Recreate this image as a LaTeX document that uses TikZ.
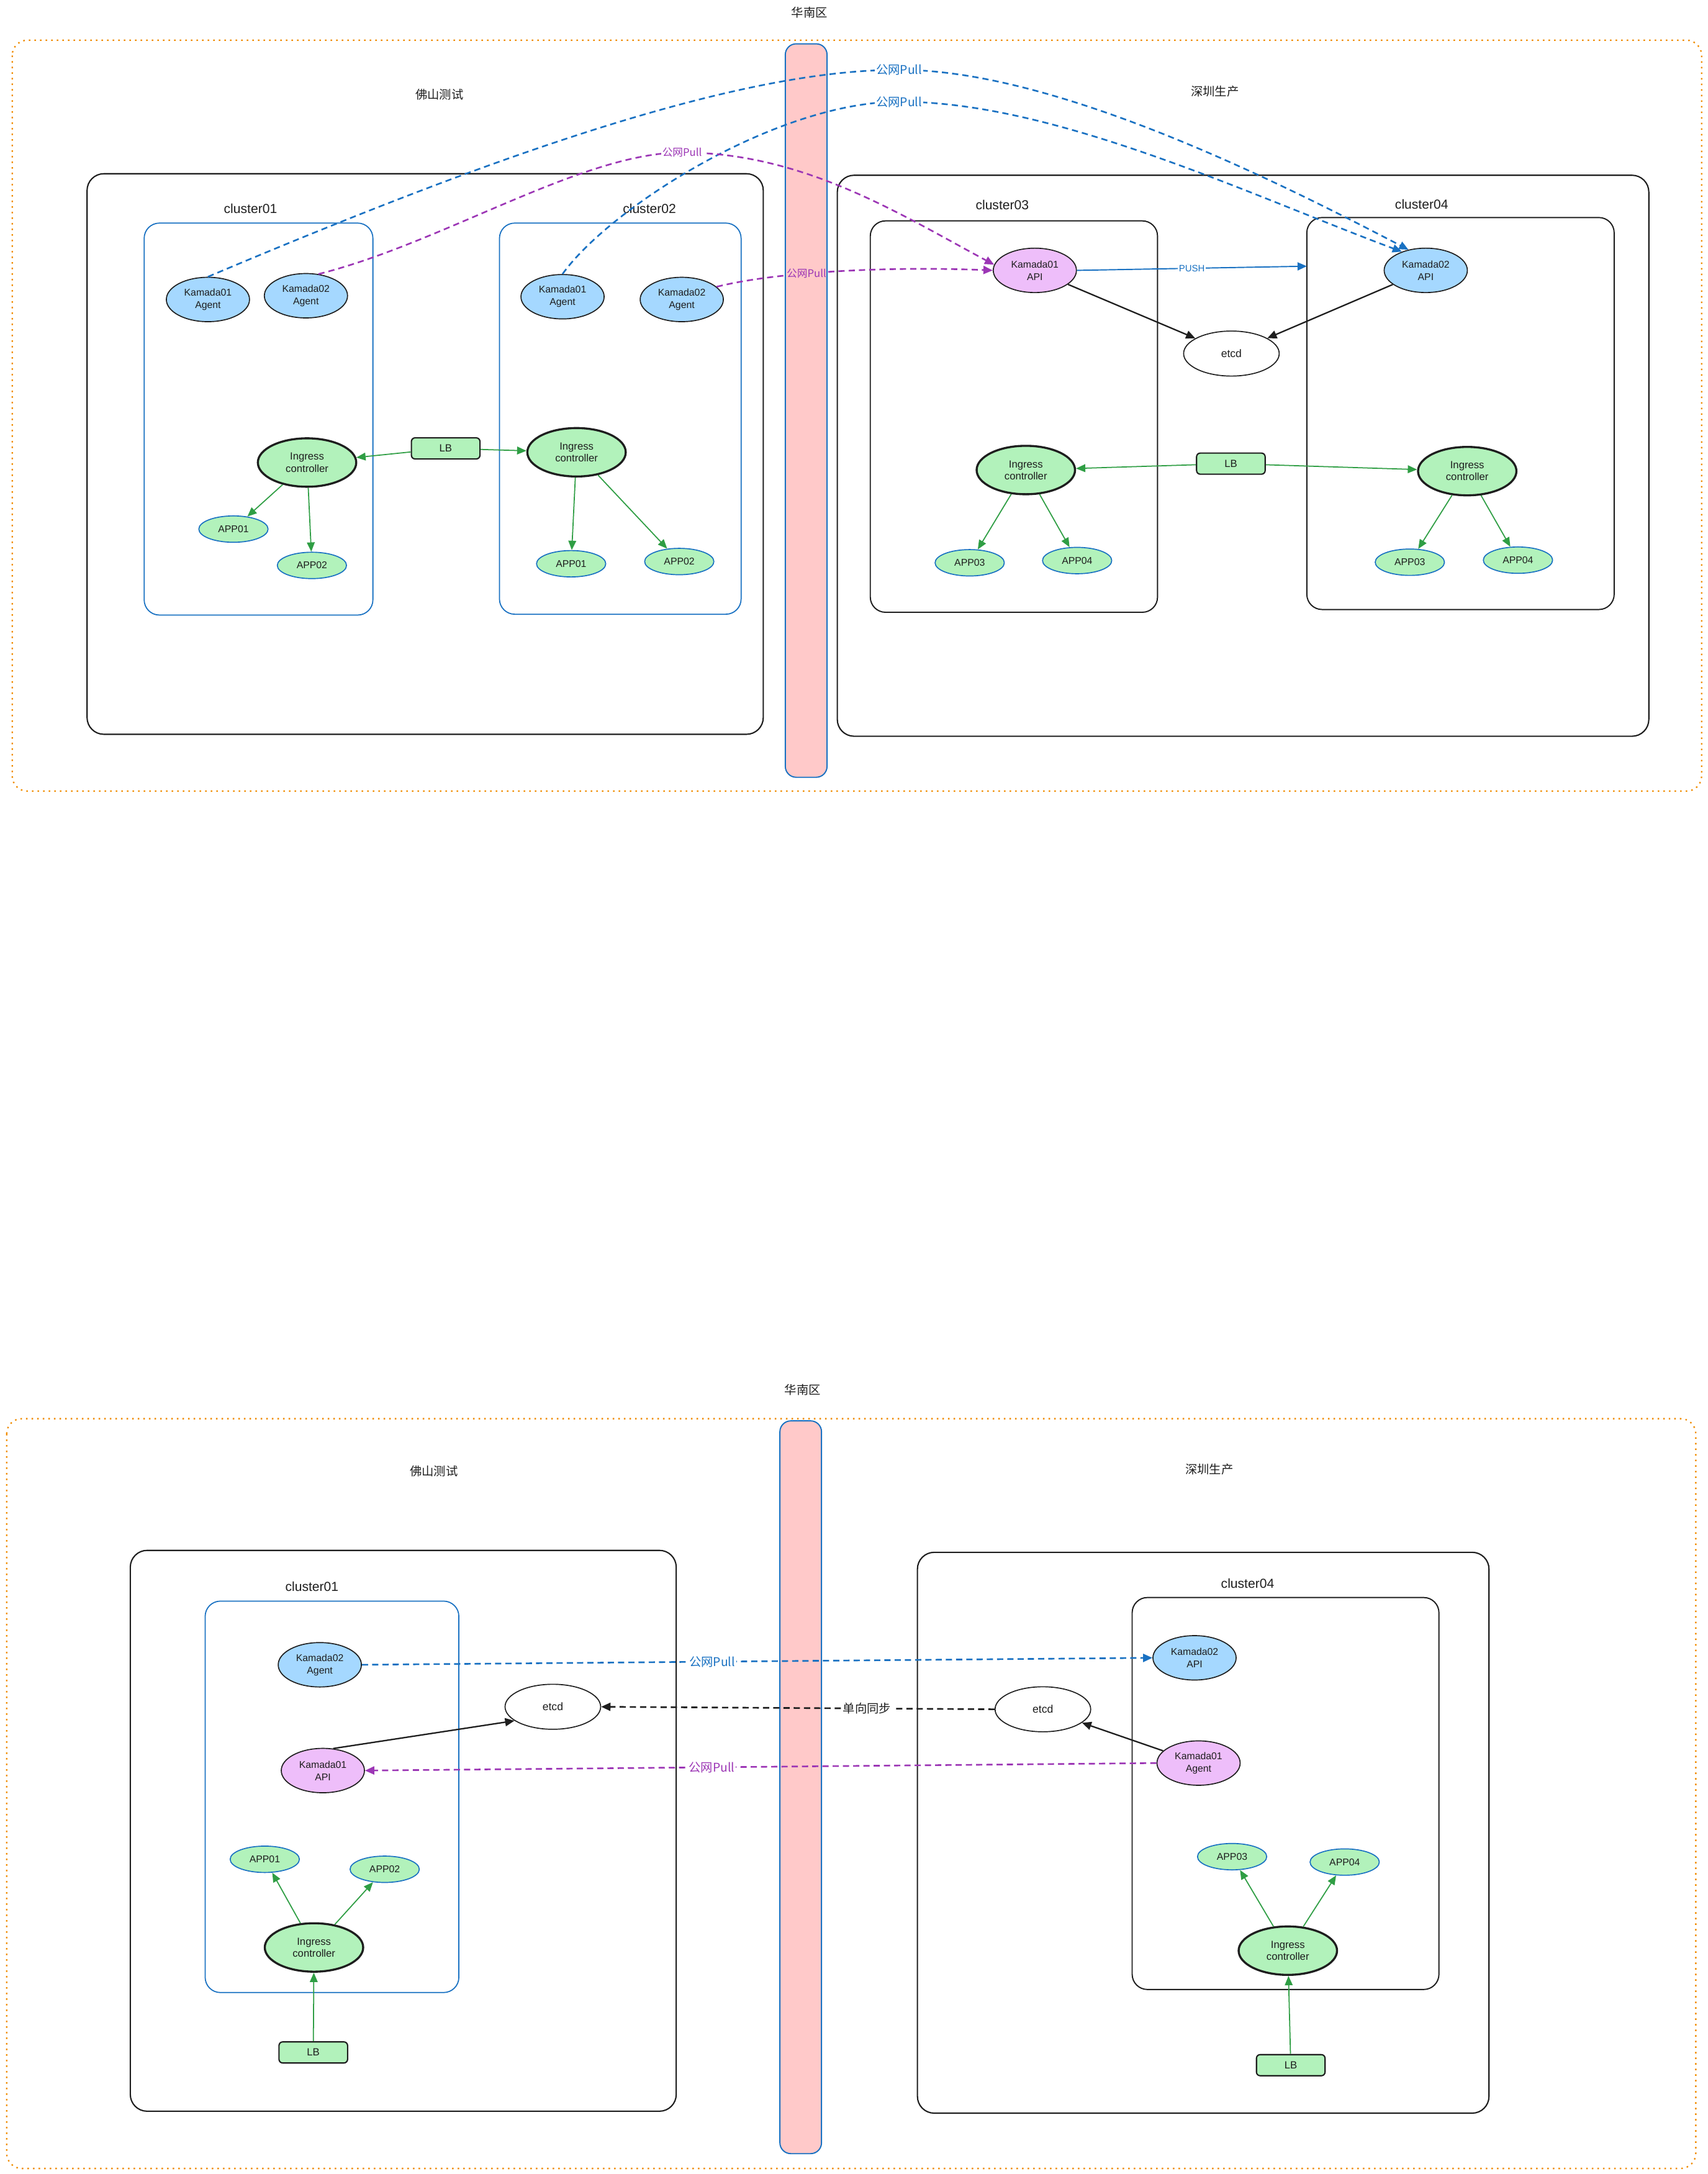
\documentclass[tikz,border=0pt]{standalone}
\usepackage{fontspec}
\setmainfont{Liberation Sans}
\newfontfamily\cjk{Noto Sans CJK SC}
\usetikzlibrary{arrows.meta,shapes.geometric}

\definecolor{exblue}{HTML}{1971C2}
\definecolor{expurple}{HTML}{9C36B5}
\definecolor{exgreen}{HTML}{2F9E44}
\definecolor{exorange}{HTML}{F08C00}
\definecolor{exblack}{HTML}{1E1E1E}
\definecolor{fillblue}{HTML}{A5D8FF}
\definecolor{fillpink}{HTML}{EEBEFA}
\definecolor{fillgreen}{HTML}{B2F2BB}
\definecolor{fillred}{HTML}{FFC9C9}

\begin{document}
\begin{tikzpicture}[x=0.4466mm, y=-0.4466mm]

		\tikzset{
			basic/.style={draw=exblack, line width=0.95pt, text=exblack, text centered, inner sep=0pt},
			agentnode/.style={basic, ellipse, fill=fillblue, minimum width=26.8mm, minimum height=14.3mm, align=center, font=\fontsize{9}{11.4}\selectfont},
			apinode/.style={agentnode, fill=fillpink},
			ingress/.style={basic, ellipse, line width=1.9pt, fill=fillgreen, minimum width=31.7mm, minimum height=15.6mm, align=center, font=\fontsize{9.5}{10.9}\selectfont},
			appnode/.style={basic, ellipse, draw=exblue, fill=fillgreen, minimum width=22.3mm, minimum height=8.5mm, font=\fontsize{9}{11}\selectfont},
			lbnode/.style={basic, rectangle, line width=1.2pt, rounded corners=1.2mm, fill=fillgreen, minimum width=22.1mm, minimum height=6.8mm, font=\fontsize{9.5}{11}\selectfont},
			etcdnode/.style={basic, ellipse, fill=white, minimum width=30.8mm, minimum height=14.5mm, font=\fontsize{10}{12}\selectfont},
			region/.style={draw=exorange, line width=1.3pt, dash pattern=on 0.5mm off 1.3mm, rounded corners=4.9mm},
			zone/.style={draw=exblack, line width=1.2pt, rounded corners=5.4mm},
			cbox/.style={draw=exblue, line width=1pt, rounded corners=4.9mm},
			kbox/.style={draw=exblack, line width=1.1pt, rounded corners=4.9mm},
			wall/.style={draw=exblue, fill=fillred, line width=1.1pt, rounded corners=3.5mm},
			title/.style={text=exblack, font=\cjk\fontsize{11}{13}\selectfont},
			ctitle/.style={text=exblack, font=\fontsize{12}{14}\selectfont},
			garrow/.style={-{Triangle[length=3mm,width=2.5mm]}, exgreen, line width=1pt},
			karrow/.style={-{Triangle[length=3mm,width=2.6mm]}, exblack, line width=1.3pt},
			barrow/.style={-{Triangle[length=3mm,width=2.6mm]}, exblue, line width=1.1pt},
			pull/.style={-{Triangle[length=3mm,width=2.6mm]}, line width=1.5pt, dash pattern=on 2mm off 1.3mm},
			plabel/.style={fill=white, inner sep=1pt, font=\cjk\fontsize{11}{13}\selectfont},
			slabel/.style={plabel, font=\cjk\fontsize{9.5}{11}\selectfont}
		}

		\useasboundingbox (0,0) rectangle (1232,1568);

		% ---------------- upper picture ----------------

		% frames
		\draw[region] (8.8,29) rectangle (1227.5,570.6);
		\draw[wall] (566.5,31.6) rectangle (596.6,560.6);
		\draw[zone] (62.8,125.3) rectangle (550.6,529.6);
		\draw[zone] (604,126.4) rectangle (1189.4,531);
		\draw[cbox] (104,160.9) rectangle (269,443.6);
		\draw[cbox] (360.3,160.9) rectangle (534.6,443);
		\draw[kbox] (627.8,159.3) rectangle (835,441.6);
		\draw[kbox] (942.7,156.9) rectangle (1164.4,439.6);
		\coordinate (up_C04_edge) at (942.7,192);

		\node[title] (up_HN) at (584,9) {华南区};
		\node[title] (up_FS) at (317,68) {佛山测试};
		\node[title] (up_SZ) at (876.4,66) {深圳生产};
		\node[ctitle] (up_T01) at (180.7,150.3) {cluster01};
		\node[ctitle] (up_T02) at (468.5,150.4) {cluster02};
		\node[ctitle] (up_T03) at (723,148) {cluster03};
		\node[ctitle] (up_T04) at (1025.5,147.3) {cluster04};

		% internal Nodes
		\node[agentnode] (up_C01_AG1) at (150,216) {Kamada01\\Agent};
		\node[agentnode] (up_C01_AG2) at (220.7,213.3) {Kamada02\\Agent};
		\node[agentnode] (up_C02_AG1) at (405.8,214) {Kamada01\\Agent};
		\node[agentnode] (up_C02_AG2) at (491.8,216) {Kamada02\\Agent};
		\node[apinode] (up_C03_API) at (746.5,195) {Kamada01\\API};
		\node[agentnode] (up_C04_API) at (1028.5,195) {Kamada02\\API};
		\node[etcdnode] (up_ETCD) at (888.3,255) {etcd};

		\node[ingress] (up_C01_ING) at (221.5,333.6) {Ingress\\controller};
		\node[ingress] (up_C02_ING) at (415.9,326.2) {Ingress\\controller};
		\node[ingress] (up_C03_ING) at (740,339) {Ingress\\controller};
		\node[ingress] (up_C04_ING) at (1058.4,339.8) {Ingress\\controller};
		\node[lbnode] (up_LB12) at (321.5,323.4) {LB};
		\node[lbnode] (up_LB34) at (887.9,334.4) {LB};

		\node[appnode] (up_C01_APP1) at (168.4,381.6) {APP01};
		\node[appnode] (up_C01_APP2) at (225,407.8) {APP02};
		\node[appnode] (up_C02_APP1) at (412,406.6) {APP01};
		\node[appnode] (up_C02_APP2) at (490,405) {APP02};
		\node[appnode] (up_C03_APP3) at (699.5,405.9) {APP03};
		\node[appnode] (up_C03_APP4) at (777,404.3) {APP04};
		\node[appnode] (up_C04_APP3) at (1017,405.5) {APP03};
		\node[appnode] (up_C04_APP4) at (1095,404) {APP04};

		% public network pulls
		\draw[pull, exblue] (up_C01_AG1.north) .. controls (350,115) and (530,50) .. (648.5,50.4)
			node[plabel, text=exblue] {公网Pull} .. controls (760,50) and (920,130) .. (up_C04_API.130);
		\draw[pull, exblue] (up_C02_AG1.north) .. controls (440,150) and (560,73.4) .. (648.5,73.4)
			node[plabel, text=exblue] {公网Pull} .. controls (760,73) and (900,140) .. (up_C04_API.142);
		\draw[pull, expurple] (up_C01_AG2.60) .. controls (320,175) and (420,110) .. (492,110)
			node[slabel, text=expurple] {公网Pull} .. controls (580,110) and (650,155) .. (up_C03_API.172);
		\draw[pull, expurple] (up_C02_AG2.20) .. controls (560,196) and (640,192) .. (up_C03_API.west)
			node[slabel, fill=fillred, inner sep=0pt, text=expurple, pos=0.39] {公网Pull};

		% control plane
		\draw[barrow] (up_C03_API.east) -- (up_C04_edge) node[midway, fill=white, inner sep=1pt, text=exblue, font=\fontsize{8.5}{10}\selectfont] {PUSH};
		\draw[karrow] (up_C03_API) -- (up_ETCD);
		\draw[karrow] (up_C04_API) -- (up_ETCD);

		% traffic
		\draw[garrow] (up_LB12) -- (up_C01_ING);
		\draw[garrow] (up_LB12) -- (up_C02_ING);
		\draw[garrow] (up_C01_ING) -- (up_C01_APP1);
		\draw[garrow] (up_C01_ING) -- (up_C01_APP2);
		\draw[garrow] (up_C02_ING) -- (up_C02_APP1);
		\draw[garrow] (up_C02_ING) -- (up_C02_APP2);
		\draw[garrow] (up_LB34) -- (up_C03_ING);
		\draw[garrow] (up_LB34) -- (up_C04_ING);
		\draw[garrow] (up_C03_ING) -- (up_C03_APP3);
		\draw[garrow] (up_C03_ING) -- (up_C03_APP4);
		\draw[garrow] (up_C04_ING) -- (up_C04_APP3);
		\draw[garrow] (up_C04_ING) -- (up_C04_APP4);

		% ---------------- lower picture ----------------

		% frames
		\draw[region] (4.8,1023.2) rectangle (1223.3,1564);
		\draw[wall] (562.6,1024.8) rectangle (592.6,1553.3);
		\draw[zone] (94,1118.2) rectangle (487.8,1522.7);
		\draw[zone] (661.8,1119.6) rectangle (1074.1,1524.1);
		\draw[cbox] (148,1154.8) rectangle (331,1437.1);
		\draw[kbox] (816.7,1152.2) rectangle (1038,1434.9);

		\node[title] (dn_HN) at (579,1002.2) {华南区};
		\node[title] (dn_FS) at (313,1061.2) {佛山测试};
		\node[title] (dn_SZ) at (872.3,1059.6) {深圳生产};
		\node[ctitle] (dn_T01) at (225,1144.2) {cluster01};
		\node[ctitle] (dn_T04) at (900,1142.1) {cluster04};

		% internal Nodes
		\node[agentnode] (dn_C01_AG2) at (230.7,1200.7) {Kamada02\\Agent};
		\node[apinode] (dn_C01_API) at (232.9,1277) {Kamada01\\API};
		\node[etcdnode] (dn_C01_ETCD) at (398.8,1231) {etcd};
		\node[appnode] (dn_C01_APP1) at (191,1341) {APP01};
		\node[appnode] (dn_C01_APP2) at (277.5,1348.2) {APP02};
		\node[ingress] (dn_C01_ING) at (226.5,1404.6) {Ingress\\controller};
		\node[lbnode] (dn_C01_LB) at (226,1480.3) {LB};

		\node[agentnode] (dn_C04_API) at (861.7,1195.7) {Kamada02\\API};
		\node[etcdnode] (dn_C04_ETCD) at (752.3,1232.8) {etcd};
		\node[apinode] (dn_C04_AG1) at (864.6,1271.6) {Kamada01\\Agent};
		\node[appnode] (dn_C04_APP3) at (888.8,1339.1) {APP03};
		\node[appnode] (dn_C04_APP4) at (970,1343) {APP04};
		\node[ingress] (dn_C04_ING) at (929,1406.9) {Ingress\\controller};
		\node[lbnode] (dn_C04_LB) at (931.1,1489.5) {LB};

		% cross region connections
		\draw[pull, exblue] (dn_C01_AG2.east) -- (dn_C04_API.west)
			node[plabel, text=exblue, pos=0.443] {公网Pull};
		\draw[pull, exblack] (dn_C04_ETCD.west) -- (dn_C01_ETCD.east)
			node[plabel, text=exblack, pos=0.324] {单向同步};
		\draw[pull, expurple] (dn_C04_AG1.west) -- (dn_C01_API.east)
			node[plabel, text=expurple, pos=0.562] {公网Pull};

		% internal interconnect arrows
		\draw[karrow] (dn_C01_API.65) -- (dn_C01_ETCD.200);
		\draw[karrow] (dn_C04_AG1) -- (dn_C04_ETCD);

		\draw[garrow] (dn_C01_LB) -- (dn_C01_ING);
		\draw[garrow] (dn_C01_ING) -- (dn_C01_APP1);
		\draw[garrow] (dn_C01_ING) -- (dn_C01_APP2);
		\draw[garrow] (dn_C04_LB) -- (dn_C04_ING);
		\draw[garrow] (dn_C04_ING) -- (dn_C04_APP3);
		\draw[garrow] (dn_C04_ING) -- (dn_C04_APP4);

\end{tikzpicture}
\end{document}
